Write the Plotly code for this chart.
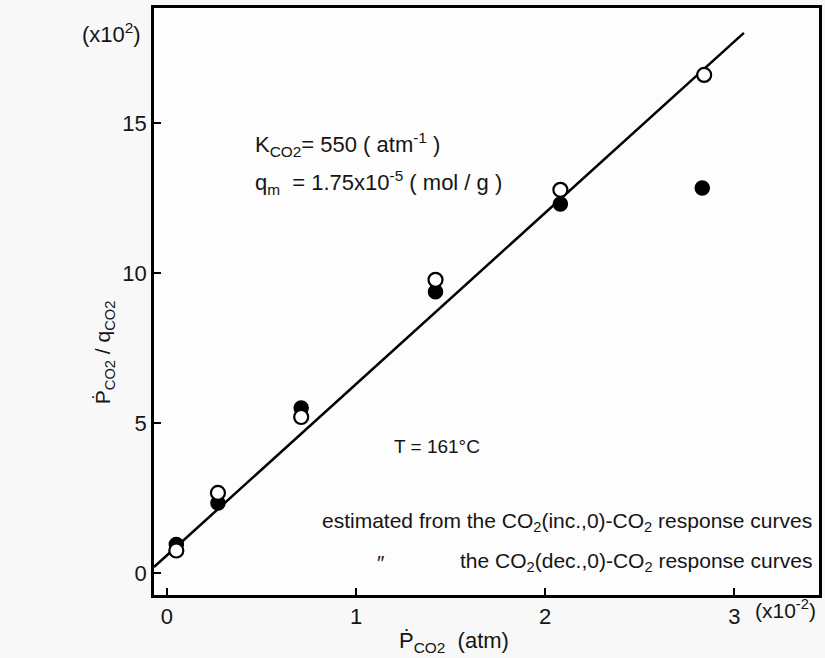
import plotly.graph_objects as go

# data (x in 1e-2 atm, y in 1e2)
open_x = [0.05, 0.27, 0.71, 1.42, 2.08, 2.84]
open_y = [0.75, 2.67, 5.2, 9.77, 12.77, 16.6]
filled_x = [0.05, 0.27, 0.71, 1.42, 2.08, 2.83]
filled_y = [0.95, 2.33, 5.5, 9.37, 12.3, 12.83]
line_x = [-0.068, 3.05]
line_y = [0.2, 18.0]

x_ticks = [0, 1, 2, 3]
y_ticks = [0, 5, 10, 15]

FONT = "Liberation Sans"
TXT = "#151515"

fig = go.Figure()
fig.add_trace(go.Scatter(x=line_x, y=line_y, mode="lines",
                         line=dict(color="black", width=2.5), showlegend=False))
fig.add_trace(go.Scatter(x=filled_x, y=filled_y, mode="markers",
                         marker=dict(symbol="circle", size=14, color="black",
                                     line=dict(color="black", width=1.5)),
                         showlegend=False))
fig.add_trace(go.Scatter(x=open_x, y=open_y, mode="markers",
                         marker=dict(symbol="circle", size=14, color="white",
                                     line=dict(color="black", width=2.2)),
                         showlegend=False))

fig.update_layout(
    width=825, height=658,
    margin=dict(l=154, r=3, t=8, b=63),
    paper_bgcolor="#f8f8f8", plot_bgcolor="#fdfdfd",
    font=dict(family=FONT, color=TXT, size=18),
    xaxis=dict(range=[-0.068, 3.447], tickvals=x_ticks, ticks="inside", ticklen=7,
               tickwidth=2, tickcolor="black", showgrid=False, zeroline=False,
               showline=True, linecolor="black", linewidth=2.5, mirror=True,
               tickfont=dict(size=22, family=FONT, color=TXT)),
    yaxis=dict(range=[-0.733, 18.83], tickvals=y_ticks, ticks="inside", ticklen=7,
               tickwidth=2, tickcolor="black", showgrid=False, zeroline=False,
               showline=True, linecolor="black", linewidth=2.5, mirror=True,
               tickfont=dict(size=22, family=FONT, color=TXT)),
)

def ann(x, y, text, size=17, xanchor="left"):
    fig.add_annotation(x=x, y=y, xref="paper", yref="paper", text=text, showarrow=False,
                       xanchor=xanchor, yanchor="middle",
                       font=dict(size=size, family=FONT, color=TXT))

def px(xp): return (xp - 154) / 668
def py(yp): return (595 - yp) / 587

ann(px(80), py(33), "(x10<sup>2</sup>)", size=22)
ann(px(253), py(145), "K<sub>CO2</sub>= 550 ( atm<sup>-1</sup> )", size=22)
ann(px(253), py(182), "q<sub>m</sub>  = 1.75x10<sup>-5</sup> ( mol / g )", size=22)
ann(px(393), py(446), "T = 161°C", size=19)
ann(px(817), py(522), "estimated from the CO<sub>2</sub>(inc.,0)-CO<sub>2</sub> response curves",
    size=21, xanchor="right")
ann(px(376), py(562), "″", size=21)
ann(px(817), py(562), "the CO<sub>2</sub>(dec.,0)-CO<sub>2</sub> response curves",
    size=21, xanchor="right")
ann(px(756), py(609), "(x10<sup>-2</sup>)", size=21)
ann(px(398), py(642), "Ṗ<sub>CO2</sub>  (atm)", size=22)
fig.add_annotation(x=px(104), y=py(352), xref="paper", yref="paper",
                   text="Ṗ<sub>CO2</sub> / q<sub>CO2</sub>", showarrow=False,
                   textangle=-90, xanchor="center", yanchor="middle",
                   font=dict(size=21, family=FONT, color=TXT))

fig.write_html("out.html")
